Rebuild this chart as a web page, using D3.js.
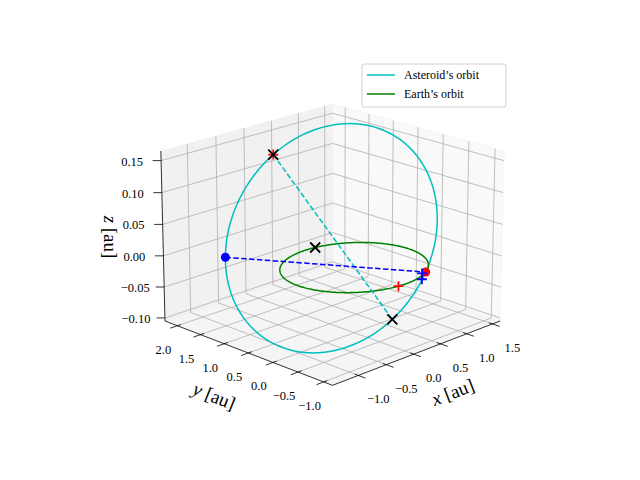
<!DOCTYPE html>
<html><head><meta charset="utf-8">
<script src="https://d3js.org/d3.v7.min.js"></script>
<style>body{margin:0;background:#fff}text{font-family:"Liberation Serif","DejaVu Serif",serif;}</style>
</head><body><svg id="c" width="640" height="480"></svg>
<script>
// ---- data ----
const xLim = [-1.45, 1.65], yLim = [-1.17, 2.27], zLim = [-0.105, 0.165];
const xTicks = [-1.0, -0.5, 0.0, 0.5, 1.0, 1.5];
const yTicks = [-1.0, -0.5, 0.0, 0.5, 1.0, 1.5, 2.0];
const zTicks = [-0.10, -0.05, 0.00, 0.05, 0.10, 0.15];
// asteroid orbital elements
const orbitP = [1.296], orbitE = [0.386], orbitIncDeg = [5.0], orbitNodeDeg = [-60], orbitPeriDeg = [-40];
const earthRadius = [1.0];
const view = {elev: 19, azim: -135, dist: 40};
const legendLabels = ["Asteroid\u2019s orbit", "Earth\u2019s orbit"];

const svg = d3.select("#c");
const p = orbitP[0], e = orbitE[0], inc = orbitIncDeg[0]*Math.PI/180, Om = orbitNodeDeg[0]*Math.PI/180, w = orbitPeriDeg[0]*Math.PI/180;
const nV = [Math.cos(Om), Math.sin(Om), 0];
const mV = [-Math.sin(Om)*Math.cos(inc), Math.cos(Om)*Math.cos(inc), Math.sin(inc)];
function orbitPt(phi){ const r = p/(1+e*Math.cos(phi-w)); return [r*(Math.cos(phi)*nV[0]+Math.sin(phi)*mV[0]), r*(Math.cos(phi)*nV[1]+Math.sin(phi)*mV[1]), r*(Math.cos(phi)*nV[2]+Math.sin(phi)*mV[2])]; }
const angles = d3.range(0, 361, 1).map(d=>d*Math.PI/180);
const asteroid = angles.map(orbitPt);
const earth = angles.map(a=>[earthRadius[0]*Math.cos(a), earthRadius[0]*Math.sin(a), 0]);
const aph = orbitPt(w+Math.PI), peri = orbitPt(w), nodeA = orbitPt(0), nodeB = orbitPt(Math.PI);
const lamA = Math.atan2(aph[1], aph[0]), lamP = Math.atan2(peri[1], peri[0]);
const earthAtAph = [Math.cos(lamA), Math.sin(lamA), 0];
const earthRed = [Math.cos(lamP+0.05), Math.sin(lamP+0.05), 0];
const bluePlus = [[0.43, -0.87, 0.0], [0.27, -1.03, 0.0]];

// ---- projection (matplotlib-like) ----
const sx = d3.scaleLinear().domain(xLim).range([0,4]);
const sy = d3.scaleLinear().domain(yLim).range([0,4]);
const sz = d3.scaleLinear().domain(zLim).range([0,3]);
const el = view.elev*Math.PI/180, az = view.azim*Math.PI/180;
const R = [2,2,1.5], dist = view.dist;
const eye = [R[0]+dist*Math.cos(el)*Math.cos(az), R[1]+dist*Math.cos(el)*Math.sin(az), R[2]+dist*Math.sin(el)];
const norm = v=>{const l=Math.hypot(...v);return v.map(a=>a/l);};
const cross=(a,b)=>[a[1]*b[2]-a[2]*b[1],a[2]*b[0]-a[0]*b[2],a[0]*b[1]-a[1]*b[0]];
const dot=(a,b)=>a[0]*b[0]+a[1]*b[1]+a[2]*b[2];
const W = norm([eye[0]-R[0],eye[1]-R[1],eye[2]-R[2]]);
const U = norm(cross([0,0,1],W)), V = cross(W,U);
function raw(pt){const q=[sx(pt[0])-eye[0],sy(pt[1])-eye[1],sz(pt[2])-eye[2]];const d=-dot(q,W);return [dot(q,U)/d, dot(q,V)/d];}
const L = raw([xLim[0],yLim[1],zLim[0]]), Rr = raw([xLim[1],yLim[0],zLim[0]]);
const scl = (500-165)/(Rr[0]-L[0]);
const cx = (165+500)/2 - scl*(L[0]+Rr[0])/2, cy = 321 + scl*(L[1]+Rr[1])/2;
function P(pt){const r=raw(pt);return [cx+scl*r[0], cy-scl*r[1]];}
const line = d3.line().x(d=>P(d)[0]).y(d=>P(d)[1]);

// ---- panes ----
const [x0,x1]=xLim,[y0,y1]=yLim,[z0,z1]=zLim;
const panes = [
 {pts:[[x0,y0,z0],[x1,y0,z0],[x1,y1,z0],[x0,y1,z0]], fill:"#f5f5f5"},
 {pts:[[x1,y0,z0],[x1,y1,z0],[x1,y1,z1],[x1,y0,z1]], fill:"#f9f9f9"},
 {pts:[[x0,y1,z0],[x1,y1,z0],[x1,y1,z1],[x0,y1,z1]], fill:"#f1f1f1"}];
svg.selectAll("path.pane").data(panes).join("path").attr("d",d=>line(d.pts)+"Z").attr("fill",d=>d.fill).attr("stroke","#f0f0f0").attr("stroke-width",0.6);

// gridlines
const grid = [];
xTicks.forEach(t=>{grid.push([[t,y0,z0],[t,y1,z0]]);grid.push([[t,y1,z0],[t,y1,z1]]);});
yTicks.forEach(t=>{grid.push([[x0,t,z0],[x1,t,z0]]);grid.push([[x1,t,z0],[x1,t,z1]]);});
zTicks.forEach(t=>{grid.push([[x1,y0,t],[x1,y1,t]]);grid.push([[x0,y1,t],[x1,y1,t]]);});
svg.selectAll("path.grid").data(grid).join("path").attr("d",line).attr("stroke","#b0b0b0").attr("stroke-width",0.8).attr("fill","none");

// axes lines
const axes = [[[x0,y0,z0],[x1,y0,z0]],[[x0,y0,z0],[x0,y1,z0]],[[x0,y1,z0],[x0,y1,z1]]];
svg.selectAll("path.ax").data(axes).join("path").attr("d",line).attr("stroke","#000").attr("stroke-width",0.8);
const rx=x1-x0, ry=y1-y0;
const g = svg.append("g").attr("font-size",12.5);
const fmt = (t,f)=>d3.format(f)(t).replace("-","\u2212");
// tick marks and labels
xTicks.forEach(t=>{svg.append("path").attr("d",line([[t,y0+0.02*ry,z0],[t,y0-0.04*ry,z0]])).attr("stroke","#000").attr("stroke-width",0.8);
 const q=P([t,y0,z0]); g.append("text").attr("x",q[0]+20).attr("y",q[1]+28).attr("text-anchor","middle").text(fmt(t,".1f"));});
yTicks.forEach(t=>{svg.append("path").attr("d",line([[x0+0.02*rx,t,z0],[x0-0.04*rx,t,z0]])).attr("stroke","#000").attr("stroke-width",0.8);
 const q=P([x0,t,z0]); g.append("text").attr("x",q[0]-14).attr("y",q[1]+28).attr("text-anchor","middle").text(fmt(t,".1f"));});
zTicks.forEach(t=>{svg.append("path").attr("d",line([[x0,y1,t],[x0-0.025*rx,y1+0.025*ry,t]])).attr("stroke","#000").attr("stroke-width",0.8);
 const q=P([x0,y1,t]); g.append("text").attr("x",q[0]-29).attr("y",q[1]+5).attr("text-anchor","middle").text(fmt(t,".2f"));});
// axis labels
function axLabel(pt, dx, dy, rot, sym){const q=P(pt);const t=svg.append("text").attr("transform",`translate(${q[0]+dx},${q[1]+dy}) rotate(${rot})`).attr("text-anchor","middle").attr("font-size",19);
 t.append("tspan").attr("font-style","italic").text(sym); t.append("tspan").text(" [au]");}
axLabel([(x0+x1)/2, y0, z0], 36, 46, -21, "x");
axLabel([x0, (y0+y1)/2, z0], -34, 50, 22, "y");
axLabel([x0, y1, (z0+z1)/2], -59, 0, 90, "z");

// ---- data lines ----
svg.append("path").attr("d",line(asteroid)).attr("fill","none").attr("stroke","#00bfbf").attr("stroke-width",1.5);
svg.append("path").attr("d",line(earth)).attr("fill","none").attr("stroke","#008000").attr("stroke-width",1.5);
svg.append("path").attr("d",line([aph,peri])).attr("fill","none").attr("stroke","#00bfbf").attr("stroke-width",1.5).attr("stroke-dasharray","5.5,2.4");
svg.append("path").attr("d",line([nodeB,nodeA])).attr("fill","none").attr("stroke","#0000ff").attr("stroke-width",1.5).attr("stroke-dasharray","5.5,2.4");
// markers
function plus(pt,col){const q=P(pt);svg.append("path").attr("d",`M${q[0]-5},${q[1]}h10M${q[0]},${q[1]-5}v10`).attr("stroke",col).attr("stroke-width",1.8);}
function cross2(pt,col){const q=P(pt);svg.append("path").attr("d",`M${q[0]-5},${q[1]-5}l10,10M${q[0]-5},${q[1]+5}l10,-10`).attr("stroke",col).attr("stroke-width",1.8);}
function dotm(pt,col){const q=P(pt);svg.append("circle").attr("cx",q[0]).attr("cy",q[1]).attr("r",4.5).attr("fill",col);}
dotm(nodeB,"#0000ff"); dotm(nodeA,"#ff0000");
plus(aph,"#ff0000"); plus(earthRed,"#ff0000");
bluePlus.forEach(b=>plus(b,"#0000ff"));
cross2(aph,"#000"); cross2(peri,"#000"); cross2(earthAtAph,"#000");

// ---- legend ----
const lg = svg.append("g").attr("transform","translate(362,64)");
lg.append("rect").attr("width",144).attr("height",43).attr("rx",2).attr("fill","#fff").attr("fill-opacity",0.8).attr("stroke","#d0d0d0");
const lcol=["#00bfbf","#008000"];
legendLabels.forEach((s,i)=>{lg.append("line").attr("x1",5).attr("x2",33).attr("y1",11+i*19).attr("y2",11+i*19).attr("stroke",lcol[i]).attr("stroke-width",1.5);
 lg.append("text").attr("x",42).attr("y",15+i*19).attr("font-size",12).text(s);});
</script></body></html>
